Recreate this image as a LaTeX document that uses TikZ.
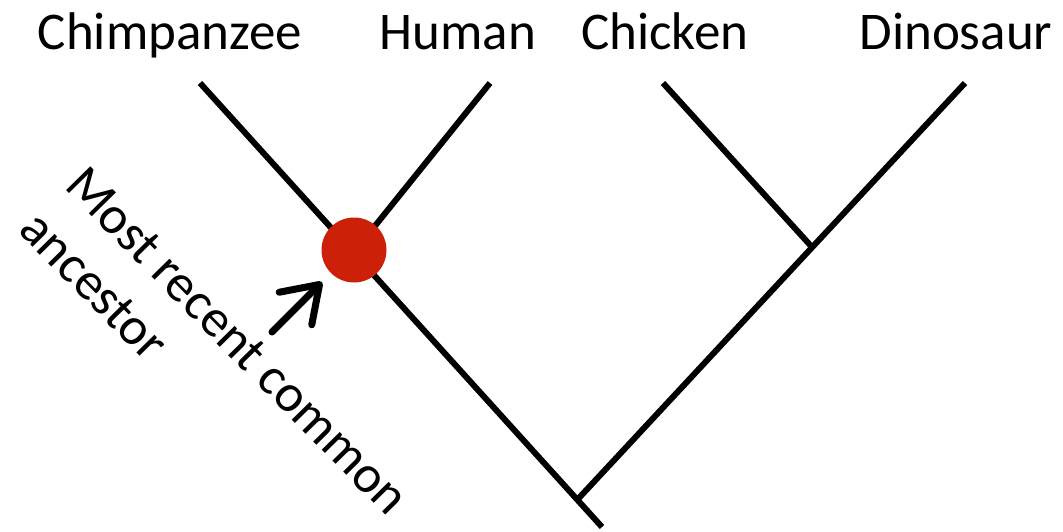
\documentclass[tikz,border=0pt]{standalone}
\usepackage{fontspec}
\setmainfont{Carlito}
\usetikzlibrary{arrows.meta}
\definecolor{mrcared}{RGB}{204,32,8}
\tikzset{
  label/.style={font=\fontsize{53}{64}\selectfont, inner sep=0pt},
  branch/.style={line width=6pt, black, line cap=butt},
  pointer/.style={line width=7pt, line cap=round, -{Straight Barb[length=34pt,width=46pt,line cap=round,line join=round]}},
  mrcadot/.style={circle, fill=mrcared, minimum size=65pt, inner sep=0pt}
}
\begin{document}
\begin{tikzpicture}[x=1pt,y=-1pt]
\useasboundingbox (0,0) rectangle (1063,532);
% taxa labels
\node[label, anchor=base] (chimp) at (170,50) {Chimpanzee};
\node[label, anchor=base] (human) at (458,50) {Human};
\node[label, anchor=base] (chicken) at (665,50) {Chicken};
\node[label, anchor=base] (dino) at (956,50) {Dinosaur};
% tree coordinates
\coordinate (tchimp) at (200,83);
\coordinate (thuman) at (490,83);
\coordinate (tchicken) at (663,83);
\coordinate (tdino) at (965,83);
\coordinate (bird) at (811,246);
\coordinate (root) at (578,499);
\coordinate (stem) at (602,527);
\coordinate (mrcapt) at (354,252);
% branches
\draw[branch] (tchimp) -- (stem);
\draw[branch] (thuman) -- (mrcapt);
\draw[branch] (tchicken) -- (bird);
\draw[branch] (tdino) -- (root);
% most recent common ancestor
\node[mrcadot] (mrca) at (354,250) {};
\coordinate (arrowtail) at (272,332);
\coordinate (arrowtip) at (322,282);
\draw[pointer] (arrowtail) -- (arrowtip);
\node[label, anchor=base west, rotate=-45.5] (line1) at (63,187) {Most recent common};
\node[label, anchor=base west, rotate=-45.5] (line2) at (17,231) {ancestor};
\end{tikzpicture}
\end{document}
